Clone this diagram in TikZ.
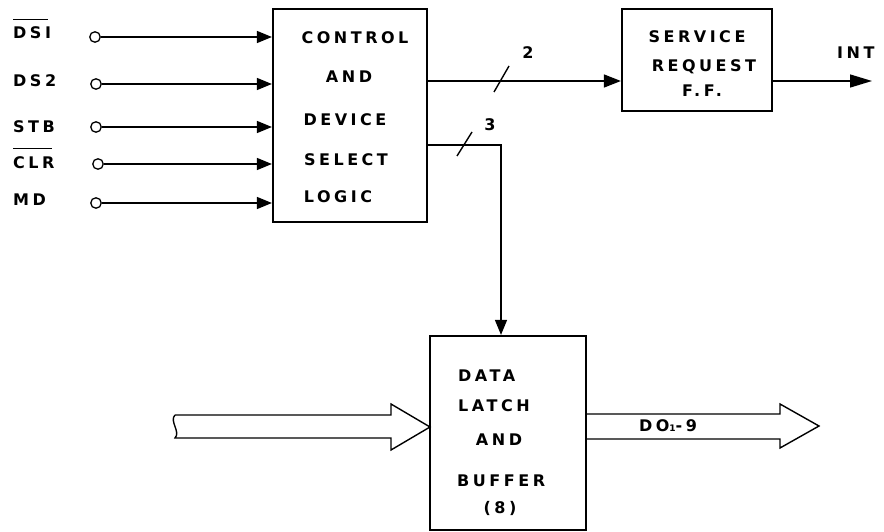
\documentclass[tikz,border=0pt]{standalone}
\usepackage{fontspec}
\setmainfont{DejaVu Sans}
\newfontfamily\lblfont{DejaVu Sans Bold}[LetterSpace=22]
\usetikzlibrary{arrows.meta}
\begin{document}
\begin{tikzpicture}[x=1pt,y=-1pt,
  lbl/.style={font=\lblfont\fontsize{16}{18}\selectfont, inner sep=0pt},
  blk/.style={draw, line width=2.2pt, inner sep=0pt},
  wire/.style={line width=1.4pt},
  sig/.style={wire, -{Triangle[length=15pt,width=12pt]}},
  pin/.style={circle, draw, line width=1.3pt, minimum size=10.5pt, inner sep=0pt},
  bus/.style={line width=1.4pt, line join=miter}]
\useasboundingbox (0,0) rectangle (884,532);

% buses
\draw[bus] (175,415) -- (391,415) -- (391,404) -- (430,427) -- (391,450) -- (391,438) -- (175,438)
  .. controls (181,432) and (169,421) .. (175,415);
\draw[bus] (586,414) -- (780,414) -- (780,404) -- (819,426) -- (780,448) -- (780,439) -- (586,439);

% blocks
\node[blk, minimum width=154pt, minimum height=213pt] (ctl) at (350,115.5) {};
\node[blk, minimum width=150pt, minimum height=102pt] (sr) at (697,60) {};
\node[blk, minimum width=156pt, minimum height=194pt] (dat) at (508,433) {};

% block texts
\node[lbl] (c1) at (355,37.5) {CONTROL};
\node[lbl] (c2) at (349,77) {AND};
\node[lbl] (c3) at (345,120) {DEVICE};
\node[lbl] (c4) at (346,160) {SELECT};
\node[lbl] (c5) at (338,197) {LOGIC};

\node[lbl] (s1) at (697,36.5) {SERVICE};
\node[lbl] (s2) at (704,67) {REQUEST};
\node[lbl] (s3) at (702,91) {F.F.};

\node[lbl, anchor=west] (d1) at (458,375.5) {DATA};
\node[lbl, anchor=west] (d2) at (458,406) {LATCH};
\node[lbl] (d3) at (499,440) {AND};
\node[lbl, anchor=west] (d4) at (457,481) {BUFFER};
\node[lbl] (d5) at (500,508) {(8)};

\node[lbl] (dout) at (668,426) {DO{\fontsize{9}{9}\selectfont 1}-9};

% input pins and labels
\node[pin] (pa) at (95,37) {};
\node[pin] (pb) at (96,84) {};
\node[pin] (pc) at (96,127) {};
\node[pin] (pd) at (98,164) {};
\node[pin] (pe) at (96,203) {};
\node[lbl, anchor=west] (la) at (13,33) {DSI};
\node[lbl, anchor=west] (lb) at (13,81) {DS2};
\node[lbl, anchor=west] (lc) at (13,127) {STB};
\node[lbl, anchor=west] (ld) at (13,163) {CLR};
\node[lbl, anchor=west] (le) at (13,200) {MD};
\draw[wire] ([yshift=7pt]la.north west) -- ([yshift=7pt,xshift=-3pt]la.north east);
\draw[wire] ([yshift=8pt]ld.north west) -- ([yshift=8pt,xshift=-3pt]ld.north east);

\foreach \p in {pa,pb,pc,pd,pe}
  \draw[sig] (\p) -- (ctl.west |- \p);

% outputs
\coordinate (k2) at (502,81);
\coordinate (k3) at (501,145);
\coordinate (intend) at (872,81);
\draw[sig, -{Triangle[length=17pt,width=13pt]}] (ctl.east |- k2) -- (sr.west |- k2);
\draw[sig, -{Triangle[length=22pt,width=13pt]}] (sr.east |- intend) -- (intend);
\draw[sig] (ctl.east |- k3) -- (k3) -- (k3 |- dat.north);

% bus-width slashes
\draw[wire] (494,92) -- (509,66);
\draw[wire] (457,156) -- (472,132);
\node[lbl] (n2) at (528,53) {2};
\node[lbl] (n3) at (490,125) {3};
\node[lbl, anchor=west] (int) at (837,53) {INT};
\end{tikzpicture}
\end{document}
